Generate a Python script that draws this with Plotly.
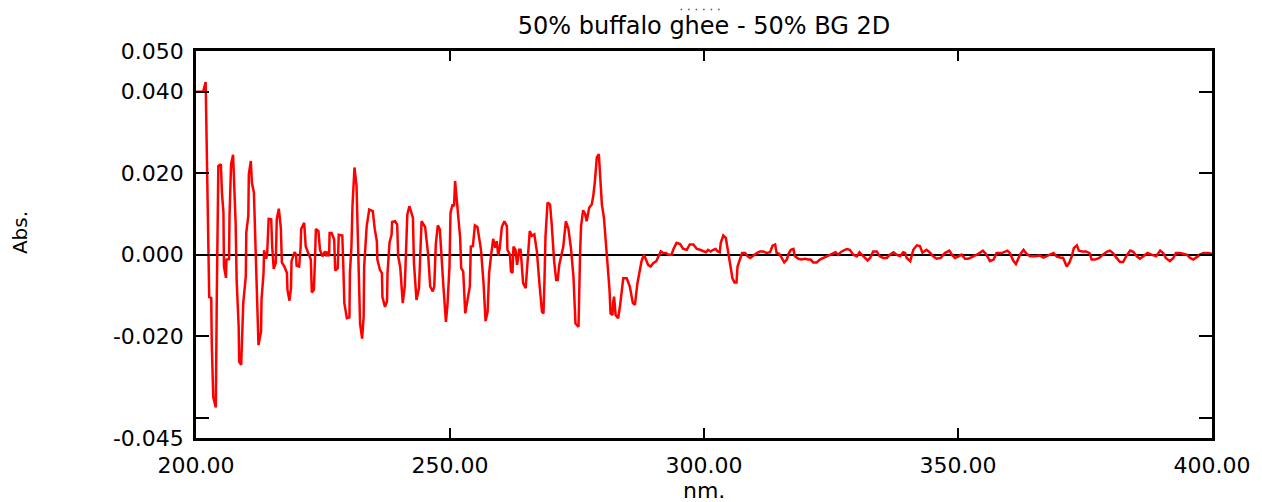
import plotly.graph_objects as go

# ---- data: wavelength (nm) and 2nd-derivative absorbance ----
wl_a = [200.0, 201.4, 201.9, 202.1, 202.4, 202.6, 203.0, 203.1, 203.4, 203.9,
        204.1, 204.4, 204.9, 205.1, 205.4, 205.5, 205.9, 206.0, 206.5, 206.6,
        206.9, 207.3, 207.8, 208.0, 208.4, 208.5, 208.9, 209.2, 209.3, 209.8,
        209.9, 210.3, 210.4, 210.8, 211.0, 211.4, 211.6, 211.8, 212.3, 212.8,
        212.9, 213.3, 213.4, 213.8, 214.0, 214.3, 214.8, 215.0, 215.3, 215.7,
        215.9, 216.3, 216.7, 216.9, 217.4, 217.9, 218.0, 218.4, 218.7, 218.8,
        219.4, 219.7, 219.8, 220.3, 220.6, 220.7, 221.3, 221.6, 222.2, 222.6,
        222.8, 223.2, 223.4, 223.6, 224.1, 224.4, 224.9, 225.4, 225.7, 225.9,
        226.2, 226.3, 226.7, 227.2, 227.4, 227.9, 228.1, 228.8, 229.0, 229.2,
        229.7, 230.2, 230.3, 230.6, 230.8, 231.2, 231.6, 231.8, 232.1, 232.3,
        232.7, 233.0, 233.1, 233.6, 234.1, 234.8, 235.2, 235.6, 235.7, 236.2,
        236.6, 236.7, 237.2, 237.6, 237.7, 238.1, 238.5, 238.6, 239.2, 239.6,
        239.8]
abs_a = [0.0400, 0.0400, 0.0424, 0.0235, 0.0070, -0.0104, -0.0106, -0.0217, -0.0350, -0.0375,
         -0.0094, 0.0218, 0.0222, 0.0153, 0.0104, -0.0029, -0.0057, -0.0012, -0.0011, 0.0095,
         0.0222, 0.0245, 0.0079, -0.0062, -0.0177, -0.0263, -0.0270, -0.0177, -0.0119, -0.0054,
         0.0054, 0.0095, 0.0198, 0.0230, 0.0177, 0.0152, 0.0054, -0.0029, -0.0222, -0.0189,
         -0.0110, -0.0045, 0.0011, -0.0010, 0.0000, 0.0088, 0.0087, 0.0020, -0.0035, -0.0020,
         0.0087, 0.0113, 0.0066, -0.0019, -0.0029, -0.0045, -0.0086, -0.0113, -0.0082, -0.0016,
         0.0006, 0.0000, -0.0027, -0.0029, 0.0020, 0.0063, 0.0078, 0.0020, 0.0000, -0.0012,
         -0.0093, -0.0086, -0.0020, 0.0063, 0.0058, 0.0012, -0.0004, 0.0008, -0.0004, 0.0008,
         -0.0004, 0.0053, 0.0053, 0.0037, -0.0039, -0.0033, 0.0049, 0.0047, -0.0029, -0.0119,
         -0.0156, -0.0154, -0.0045, 0.0020, 0.0119, 0.0214, 0.0169, 0.0062, -0.0045, -0.0169,
         -0.0206, -0.0152, -0.0029, 0.0070, 0.0111, 0.0107, 0.0062, 0.0033, -0.0012, -0.0037,
         -0.0045, -0.0104, -0.0128, -0.0115, -0.0045, 0.0030, 0.0049, 0.0080, 0.0082, 0.0074,
         -0.0004]

wl_b = [240.2, 240.7, 241.1, 241.6, 242.0, 242.7, 242.9, 243.4, 243.9, 244.4,
        245.1, 245.7, 246.1, 246.6, 246.9, 247.2, 247.6, 248.0, 248.2, 248.7,
        249.2, 249.5, 249.9, 250.1, 250.5, 250.8, 251.0, 251.4, 252.0, 252.2,
        252.6, 253.0, 253.5, 253.9, 254.1, 254.5, 254.9, 255.4, 255.7, 256.1,
        256.6, 257.0, 257.4, 257.7, 258.1, 258.5, 258.9, 259.2, 259.5, 259.8,
        260.2, 260.7, 261.2, 261.3, 261.8, 262.0, 262.3, 262.5, 262.9, 263.2,
        263.4, 263.6, 263.9, 264.1, 264.4, 264.9, 265.3, 265.7, 266.1, 266.6,
        267.1, 267.3, 267.6, 268.1, 268.4, 268.6, 268.8, 269.2, 269.7, 270.0,
        270.5, 270.9, 271.2, 271.5, 272.0, 272.3, 272.8, 273.3, 273.8, 274.3,
        274.7, 275.3, 275.6, 275.8, 276.2, 276.6, 276.9, 277.4, 277.9, 278.2,
        278.5, 278.9, 279.3, 279.9, 280.3, 280.8, 281.4, 281.6, 282.0, 282.1,
        282.3, 282.6, 283.1, 283.5]
abs_b = [-0.0030, -0.0119, -0.0078, 0.0099, 0.0119, 0.0091, -0.0020, -0.0111, -0.0082, 0.0082,
         0.0068, 0.0000, -0.0078, -0.0090, -0.0078, 0.0025, 0.0072, 0.0062, 0.0012, -0.0078,
         -0.0165, -0.0123, -0.0029, 0.0103, 0.0123, 0.0119, 0.0181, 0.0132, 0.0041, -0.0033,
         -0.0041, -0.0144, -0.0111, -0.0078, 0.0020, 0.0021, 0.0072, 0.0068, 0.0044, 0.0012,
         -0.0070, -0.0163, -0.0140, -0.0045, 0.0000, 0.0039, 0.0017, 0.0033, -0.0002, 0.0017,
         0.0068, 0.0082, 0.0070, 0.0012, 0.0000, -0.0041, -0.0045, 0.0020, 0.0012, -0.0025,
         -0.0010, 0.0012, 0.0012, -0.0029, -0.0070, -0.0082, 0.0000, 0.0058, 0.0046, 0.0050,
         0.0008, -0.0029, -0.0070, -0.0140, -0.0144, -0.0062, 0.0045, 0.0128, 0.0123, 0.0078,
         -0.0016, -0.0062, -0.0062, -0.0025, 0.0000, 0.0020, 0.0082, 0.0064, 0.0017, -0.0053,
         -0.0169, -0.0177, 0.0000, 0.0070, 0.0109, 0.0100, 0.0082, 0.0115, 0.0123, 0.0144,
         0.0177, 0.0239, 0.0247, 0.0123, 0.0091, 0.0012, -0.0086, -0.0144, -0.0148, -0.0119,
         -0.0103, -0.0148, -0.0156, -0.0123]

wl_c = [284.1, 284.8, 285.4, 286.0, 286.4, 286.9, 287.3, 287.7, 288.2, 288.6,
        289.0, 289.5, 290.0, 290.6, 291.0, 291.5, 292.0, 292.5, 293.0, 293.6,
        294.0, 294.6, 295.3, 295.9, 296.6, 297.2, 297.9, 298.6, 299.2, 299.9,
        300.4, 300.8, 301.3, 301.8, 302.3, 302.7, 303.1, 303.3, 303.8, 304.3,
        304.6, 304.9, 305.3, 305.6, 306.0, 306.4, 306.6, 307.1, 307.5, 308.1,
        308.6, 309.1, 309.7, 310.4, 311.0, 311.7, 312.3, 313.0, 313.5, 314.0,
        314.3, 314.8, 315.3, 315.8, 316.3, 316.7, 317.1, 317.6, 317.9, 318.6,
        319.2, 319.9, 320.5, 321.0, 321.5, 322.2, 322.8, 323.5, 324.2, 324.8,
        325.5, 325.9, 326.4, 327.1, 328.1, 328.7, 329.4, 330.1, 330.6, 331.0,
        331.7, 332.2, 332.7, 333.3, 334.0, 334.6, 335.3, 336.0, 336.6, 337.3,
        337.9, 338.6, 339.2, 339.6, 339.9, 340.6]
abs_c = [-0.0058, -0.0058, -0.0078, -0.0119, -0.0123, -0.0070, -0.0041, -0.0016, 0.0000, -0.0012,
         -0.0025, -0.0029, -0.0021, -0.0016, -0.0004, 0.0008, 0.0004, 0.0004, 0.0000, 0.0000,
         0.0014, 0.0029, 0.0026, 0.0014, 0.0012, 0.0025, 0.0025, 0.0014, 0.0012, 0.0008,
         0.0006, 0.0012, 0.0008, 0.0012, 0.0014, 0.0008, 0.0006, 0.0029, 0.0047, 0.0041,
         0.0020, 0.0000, -0.0033, -0.0058, -0.0068, -0.0068, -0.0029, -0.0008, 0.0004, 0.0004,
         -0.0004, -0.0008, -0.0002, 0.0004, 0.0008, 0.0008, 0.0004, 0.0006, 0.0022, 0.0025,
         0.0004, 0.0002, -0.0008, -0.0019, -0.0012, 0.0004, 0.0012, 0.0014, -0.0004, -0.0010,
         -0.0012, -0.0010, -0.0012, -0.0012, -0.0019, -0.0019, -0.0012, -0.0008, -0.0004, 0.0000,
         0.0004, 0.0006, 0.0000, 0.0008, 0.0014, 0.0012, 0.0000, -0.0004, 0.0006, 0.0000,
         -0.0008, -0.0014, -0.0008, 0.0008, 0.0008, -0.0004, -0.0008, -0.0008, 0.0000, 0.0006,
         0.0000, -0.0004, 0.0006, 0.0004, -0.0008, -0.0016]

wl_d = [341.2, 341.9, 342.5, 343.0, 343.8, 344.5, 345.1, 345.8, 346.6, 347.4,
        348.3, 348.8, 349.4, 350.1, 350.7, 351.4, 352.0, 353.0, 354.0, 354.9,
        355.5, 356.3, 357.0, 357.6, 358.6, 359.7, 360.2, 360.9, 361.4, 362.2,
        362.9, 363.5, 364.2, 365.2, 366.1, 366.8, 367.5, 368.1, 368.8, 369.4,
        370.1, 370.7, 371.4, 371.9, 372.4, 372.8, 373.4, 373.8, 374.4, 375.2,
        375.9, 376.3, 377.0, 377.8, 378.5, 379.3, 379.9, 380.5, 381.2, 381.9,
        382.5, 383.2, 383.9, 384.5, 385.2, 385.8, 386.5, 387.3, 388.1, 389.0,
        389.8, 390.4, 390.9, 391.7, 392.4, 392.9, 393.7, 394.4, 395.0, 395.7,
        396.3, 397.0, 397.6, 398.3, 399.3, 400.0]
abs_d = [0.0012, 0.0023, 0.0021, 0.0005, 0.0012, 0.0005, -0.0004, -0.0010, -0.0008, 0.0004,
         0.0010, 0.0000, -0.0008, -0.0004, 0.0000, -0.0010, -0.0010, -0.0004, 0.0002, 0.0010,
         0.0002, -0.0016, -0.0012, 0.0004, 0.0004, 0.0010, 0.0004, -0.0015, -0.0023, 0.0000,
         0.0012, 0.0002, -0.0004, -0.0004, -0.0002, -0.0007, -0.0004, 0.0000, 0.0004, -0.0004,
         -0.0007, -0.0008, -0.0029, -0.0020, -0.0004, 0.0016, 0.0023, 0.0010, 0.0008, 0.0008,
         0.0004, -0.0012, -0.0012, -0.0008, 0.0000, 0.0007, 0.0010, 0.0004, -0.0008, -0.0018,
         -0.0018, -0.0002, 0.0010, 0.0007, -0.0004, -0.0010, -0.0004, 0.0004, 0.0000, -0.0004,
         0.0010, 0.0004, -0.0008, -0.0016, -0.0008, 0.0004, 0.0004, 0.0002, 0.0000, -0.0008,
         -0.0012, -0.0006, 0.0000, 0.0004, 0.0004, 0.0002]

wavelength = wl_a + wl_b + wl_c + wl_d
absorbance = abs_a + abs_b + abs_c + abs_d

x_ticks = [200, 250, 300, 350, 400]
x_tick_labels = ["200.00", "250.00", "300.00", "350.00", "400.00"]
y_ticks = [0.05, 0.04, 0.02, 0.0, -0.02, -0.04, -0.045]
y_tick_labels = ["0.050", "0.040", "0.020", "0.000", "-0.020", "", "-0.045"]

title_text = "50% buffalo ghee - 50% BG 2D"
x_label = "nm."
y_label = "Abs."

FONT = "DejaVu Sans, Liberation Sans, Arial, sans-serif"

# the page body has an 8px margin, so the figure is sized 8px smaller
FIG_W, FIG_H = 1254, 494

fig = go.Figure()
fig.add_trace(go.Scatter(
    x=wavelength, y=absorbance, mode="lines",
    line=dict(color="#ff0000", width=2.5),
    showlegend=False, hoverinfo="skip",
))

axis_common = dict(
    showgrid=False,
    showline=True, linecolor="black", linewidth=2.5,
    mirror="ticks",
    ticks="inside", tickcolor="black", tickwidth=2,
    tickfont=dict(family=FONT, size=22, color="black"),
)

fig.update_xaxes(
    range=[200, 400],
    tickmode="array", tickvals=x_ticks, ticktext=x_tick_labels,
    ticklen=10, zeroline=False, ticklabelstandoff=6,
    **axis_common,
)
fig.update_yaxes(
    range=[-0.045, 0.050],
    tickmode="array", tickvals=y_ticks, ticktext=y_tick_labels,
    ticklen=13, ticklabelstandoff=5,
    zeroline=True, zerolinecolor="black", zerolinewidth=2,
    **axis_common,
)

fig.update_layout(
    width=FIG_W, height=FIG_H,
    margin=dict(l=188, r=50, t=43, b=64),
    paper_bgcolor="white", plot_bgcolor="white",
    title=dict(
        text=title_text, x=0.5, xref="paper", xanchor="center",
        y=1 - 18 / FIG_H, yref="container", yanchor="middle",
        font=dict(family=FONT, size=24, color="black"),
    ),
    annotations=[
        dict(text=y_label, xref="paper", yref="paper", x=-0.173, y=0.53,
             textangle=-90, showarrow=False, xanchor="center", yanchor="middle",
             font=dict(family=FONT, size=20, color="black")),
        dict(text=x_label, xref="paper", yref="paper", x=0.5, y=-0.135,
             showarrow=False, xanchor="center", yanchor="middle",
             font=dict(family=FONT, size=22, color="black")),
    ],
    # faint dotted remnant above the title (clipped header line in the original)
    shapes=[
        dict(type="line", xref="paper", yref="paper",
             x0=0.477, x1=0.519, y0=1.107, y1=1.107,
             line=dict(color="#555555", width=1.5, dash="1.5px,6px")),
    ],
)

fig.write_html("out.html")
